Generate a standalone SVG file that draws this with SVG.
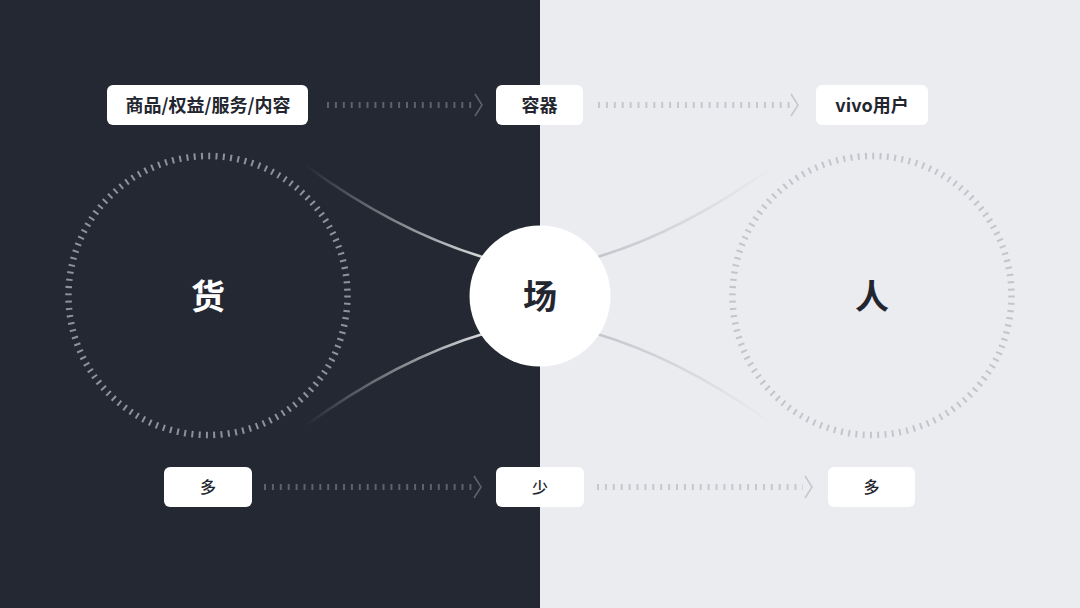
<svg xmlns="http://www.w3.org/2000/svg" width="1080" height="608" viewBox="0 0 1080 608">
<defs>
<style>
.box{fill:#ffffff}
.lbl{font-family:"Noto Sans CJK SC","Noto Sans",sans-serif;font-size:18px;font-weight:600;fill:#23262f;text-anchor:middle}
.lbl2{font-family:"Noto Sans CJK SC","Noto Sans",sans-serif;font-size:16px;font-weight:500;fill:#23262f;text-anchor:middle}
.big{font-family:"Noto Sans CJK SC","Noto Sans",sans-serif;font-size:34px;font-weight:600;text-anchor:middle}
.tkD{stroke:#5d616c;stroke-width:6;stroke-dasharray:2 5.9;fill:none}
.tkL{stroke:#c6c8cd;stroke-width:6;stroke-dasharray:2 5.9;fill:none}
.chD{stroke:#5d616c;stroke-width:1.6;fill:none}
.chL{stroke:#c6c8cd;stroke-width:1.6;fill:none}
.ring{fill:none;stroke-width:6.5;stroke-dasharray:2 5.304}
.curve{fill:none;stroke-width:2.5;stroke-linecap:round}
</style>
<linearGradient id="gL" x1="0" y1="0" x2="1" y2="0">
<stop offset="0" stop-color="#dcdde0" stop-opacity="0"/>
<stop offset="1" stop-color="#dcdde0" stop-opacity="1"/>
</linearGradient>
<linearGradient id="gR" x1="1" y1="0" x2="0" y2="0">
<stop offset="0" stop-color="#c4c5ca" stop-opacity="0"/>
<stop offset="1" stop-color="#c4c5ca" stop-opacity="1"/>
</linearGradient>
</defs>
<rect x="0" y="0" width="540" height="608" fill="#242833"/>
<rect x="540" y="0" width="540" height="608" fill="#ebecf0"/>

<g id="connectors">
<path class="curve" stroke="url(#gL)" d="M305,165 Q397,232 486,258"/>
<path class="curve" stroke="url(#gL)" d="M305,426 Q397,359 486,333"/>
<path class="curve" stroke="url(#gR)" d="M775,165 Q683,232 594,258"/>
<path class="curve" stroke="url(#gR)" d="M775,426 Q683,359 594,333"/>
<line class="tkD" x1="327" y1="105" x2="474" y2="105"/>
<polyline class="chD" points="475,94 482,105 475,116"/>
<line class="tkL" x1="598" y1="105" x2="790" y2="105"/>
<polyline class="chL" points="791,94 798,105 791,116"/>
<line class="tkD" x1="264" y1="487" x2="472" y2="487"/>
<polyline class="chD" points="474,476 481,487 474,498"/>
<line class="tkL" x1="597" y1="487" x2="803" y2="487"/>
<polyline class="chL" points="805,476 812,487 805,498"/>
</g>

<g id="node-huo">
<circle class="ring" cx="208" cy="295.5" r="139.5" stroke="#8f929a"/>
<text class="big" x="208" y="309" fill="#ffffff">货</text>
</g>
<g id="node-ren">
<circle class="ring" cx="872" cy="295.5" r="139.5" stroke="#c3c5ca"/>
<text class="big" x="872" y="309" fill="#23262f">人</text>
</g>
<g id="node-chang">
<circle cx="540" cy="296" r="70.5" fill="#ffffff"/>
<text class="big" x="540" y="309" fill="#23262f">场</text>
</g>

<g id="node-goods">
<rect class="box" x="107" y="85" width="201" height="40" rx="6"/>
<text class="lbl" x="208" y="111.5">商品/权益/服务/内容</text>
</g>
<g id="node-container">
<rect class="box" x="496" y="85" width="87" height="40" rx="6"/>
<text class="lbl" x="539.5" y="111.5">容器</text>
</g>
<g id="node-user">
<rect class="box" x="816" y="85" width="112" height="40" rx="6"/>
<text class="lbl" x="872" y="111.5">vivo用户</text>
</g>
<g id="node-duo1">
<rect class="box" x="164" y="467" width="88" height="40" rx="6"/>
<text class="lbl2" x="208" y="493">多</text>
</g>
<g id="node-shao">
<rect class="box" x="496" y="467" width="88" height="40" rx="6"/>
<text class="lbl2" x="540" y="493">少</text>
</g>
<g id="node-duo2">
<rect class="box" x="828" y="467" width="87" height="40" rx="6"/>
<text class="lbl2" x="871.5" y="493">多</text>
</g>
</svg>
